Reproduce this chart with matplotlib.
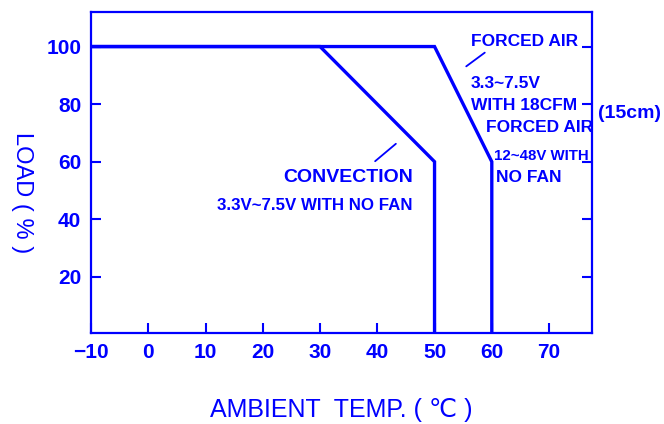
import matplotlib.pyplot as plt

# 降额曲线数据
convection_temp = [-10, 30, 50, 50]
convection_load = [100, 100, 60, 0]
forced_temp = [-10, 50, 60, 60]
forced_load = [100, 100, 60, 0]

x_ticks = [-10, 0, 10, 20, 30, 40, 50, 60, 70]
x_tick_labels = ['\u221210', '0', '10', '20', '30', '40', '50', '60', '70']
y_ticks = [20, 40, 60, 80, 100]

plt.rcParams['font.family'] = ['Liberation Sans', 'DejaVu Sans']

blue = '#0000ff'

fig = plt.figure(figsize=(6.64, 4.24), dpi=100)
ax = fig.add_axes([91 / 664, 91 / 424, 501 / 664, 321 / 424])

ax.plot(convection_temp, convection_load, color=blue, lw=2.4, solid_joinstyle='miter')
ax.plot(forced_temp, forced_load, color=blue, lw=2.4, solid_joinstyle='miter')

ax.set_xlim(-10, 77.5)
ax.set_ylim(0.5, 112)

ax.set_xticks(x_ticks)
ax.set_xticklabels(x_tick_labels)
ax.set_yticks(y_ticks)
ax.tick_params(direction='in', length=7, width=1.5, colors=blue,
               labelsize=15, right=True, pad=7)
for lab in ax.get_xticklabels() + ax.get_yticklabels():
    lab.set_fontweight('bold')
for s in ax.spines.values():
    s.set_color(blue)
    s.set_linewidth(1.6)


def px(x, y):
    # 像素坐标 -> 坐标轴比例
    return ((x - 91) / 501, (333 - y) / 321)


txt = dict(color=blue, fontsize=12.5, fontweight='bold', ha='left', va='center',
           transform=ax.transAxes, clip_on=False)

# 强制风冷注释
ax.text(*px(471, 42), 'FORCED AIR', **txt)
ax.text(*px(471, 83), '3.3~7.5V', **txt)
ax.text(*px(471, 105), 'WITH 18CFM', **txt)
ax.text(*px(486, 127), 'FORCED AIR', **txt)
ax.text(*px(494, 156), '12~48V WITH', **{**txt, 'fontsize': 10.8})
ax.text(*px(496, 177), 'NO FAN', **txt)
ax.annotate('', xy=px(464, 68), xytext=px(487, 51), xycoords='axes fraction',
            arrowprops=dict(arrowstyle='-', color=blue, lw=1.3))

# 自然对流注释
ax.text(*px(283, 177), 'CONVECTION', **{**txt, 'fontsize': 14})
ax.text(*px(217, 205), '3.3V~7.5V WITH NO FAN', **{**txt, 'fontsize': 12.2})
ax.annotate('', xy=px(373, 163), xytext=px(398, 142), xycoords='axes fraction',
            arrowprops=dict(arrowstyle='-', color=blue, lw=1.3))

ax.text(*px(598, 113), '(15cm)', **{**txt, 'fontsize': 14})

fig.text(341 / 664, 1 - 410 / 424, 'AMBIENT  TEMP. ( \u2103 )', ha='center', va='center',
         color=blue, fontsize=18)
fig.text(22 / 664, 1 - 193 / 424, 'LOAD ( % )', ha='center', va='center', rotation=-90,
         color=blue, fontsize=17)

fig.savefig('out.png', dpi=100)
